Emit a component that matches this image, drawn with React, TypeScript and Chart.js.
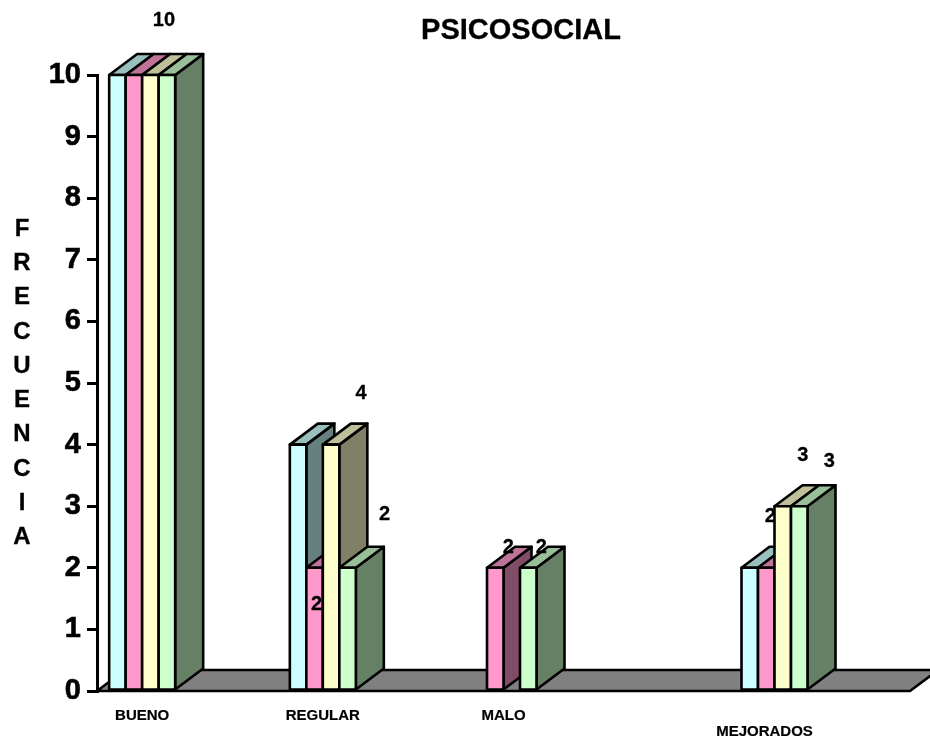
import React, { useEffect, useRef } from "react";
import { Chart, registerables } from "chart.js";

Chart.register(...registerables);

// Nine equal slots along the floor; only four of them hold a group of bars.
const categories = ["BUENO", "", "REGULAR", "", "MALO", "", "", "MEJORADOS", ""];

const seriesCyan = [10, null, 4, null, null, null, null, 2, null];
const seriesPink = [10, null, 2, null, 2, null, null, 2, null];
const seriesYellow = [10, null, 4, null, null, null, null, 3, null];
const seriesGreen = [10, null, 2, null, 2, null, null, 3, null];

const yTicks = [0, 1, 2, 3, 4, 5, 6, 7, 8, 9, 10];
const titleText = "PSICOSOCIAL";
const yAxisTitle = "FRECUENCIA";

const frontColors = ["#CCFFFF", "#FF99CC", "#FFFFCC", "#CCFFCC"];
const topColors = ["#99BFBF", "#BF7399", "#BFBF99", "#99BF99"];
const sideColors = ["#668080", "#804D66", "#808066", "#668066"];

const FONT = '"Liberation Sans", Arial, sans-serif';
const DEPTH_X = 28;
const DEPTH_Y = -21;
const EDGE = 2.6;

// Value captions: which bar each one belongs to, and its offset from that bar's top centre.
const captions = [
  { series: 3, category: 0, dx: -3, dy: -55 },
  { series: 1, category: 2, dx: 2, dy: 37 },
  { series: 2, category: 2, dx: 30, dy: -51 },
  { series: 3, category: 2, dx: 37, dy: -53 },
  { series: 1, category: 4, dx: 13, dy: -20 },
  { series: 3, category: 4, dx: 13, dy: -20 },
  { series: 1, category: 7, dx: 4, dy: -51 },
  { series: 2, category: 7, dx: 20, dy: -51 },
  { series: 3, category: 7, dx: 30, dy: -45 },
];

// Category captions sit under their slot; the last one is shifted and dropped a line.
const categoryCaptionShift: Record<number, { dx: number; dy: number }> = {
  7: { dx: -10, dy: 16 },
};

function polygon(ctx: CanvasRenderingContext2D, pts: number[][], fill: string) {
  ctx.beginPath();
  pts.forEach(([x, y], i) => (i ? ctx.lineTo(x, y) : ctx.moveTo(x, y)));
  ctx.closePath();
  ctx.fillStyle = fill;
  ctx.fill();
  ctx.stroke();
}

// Bold text with a hairline outline for a heavier weight.
function heavyText(ctx: CanvasRenderingContext2D, text: string, x: number, y: number, weight = 0.3) {
  ctx.lineWidth = weight;
  ctx.strokeStyle = "#000";
  ctx.fillStyle = "#000";
  ctx.fillText(text, x, y);
  ctx.strokeText(text, x, y);
}

const bars3d = {
  id: "bars3d",
  // Replaces the flat bar pass: floor first, then the series left to right with depth faces.
  beforeDatasetsDraw(chart: any) {
    const { ctx, chartArea } = chart;
    const { left, right, bottom } = chartArea;
    ctx.save();
    ctx.lineJoin = "round";
    ctx.strokeStyle = "#000";
    ctx.lineWidth = EDGE;
    polygon(
      ctx,
      [
        [left, bottom],
        [left + DEPTH_X, bottom + DEPTH_Y],
        [right + DEPTH_X, bottom + DEPTH_Y],
        [right, bottom],
      ],
      "#808080",
    );

    chart.data.datasets.forEach((ds: any, si: number) => {
      const meta = chart.getDatasetMeta(si);
      ctx.strokeStyle = "#000";
      ctx.lineWidth = EDGE;
      meta.data.forEach((bar: any, ci: number) => {
        if (ds.data[ci] == null) return;
        const { x, y, base, width } = bar.getProps(["x", "y", "base", "width"], true);
        const l = x - width / 2;
        const r = x + width / 2;
        polygon(
          ctx,
          [
            [r, base],
            [r + DEPTH_X, base + DEPTH_Y],
            [r + DEPTH_X, y + DEPTH_Y],
            [r, y],
          ],
          sideColors[si],
        );
        polygon(
          ctx,
          [
            [l, y],
            [l + DEPTH_X, y + DEPTH_Y],
            [r + DEPTH_X, y + DEPTH_Y],
            [r, y],
          ],
          topColors[si],
        );
        bar.draw(ctx);
        ctx.strokeRect(l, y, width, base - y);
      });

      // Captions go right after their series, so later bars may cover them.
      ctx.font = `bold 20px ${FONT}`;
      ctx.textAlign = "center";
      ctx.textBaseline = "middle";
      captions
        .filter((c) => c.series === si)
        .forEach((c) => {
          const { x, y } = meta.data[c.category].getProps(["x", "y"], true);
          heavyText(ctx, String(ds.data[c.category]), x + c.dx, y + c.dy);
        });
    });
    ctx.restore();
    return false;
  },
  afterDraw(chart: any) {
    const { ctx, scales } = chart;
    ctx.save();
    ctx.textAlign = "center";
    ctx.textBaseline = "middle";

    ctx.font = `bold 15px ${FONT}`;
    categories.forEach((name, i) => {
      if (!name) return;
      const shift = categoryCaptionShift[i] ?? { dx: 0, dy: 0 };
      heavyText(ctx, name, scales.x.getPixelForValue(i) + shift.dx, 716 + shift.dy, 0.2);
    });

    ctx.font = `bold 29px ${FONT}`;
    heavyText(ctx, titleText, 521, 31);

    ctx.font = `bold 24px ${FONT}`;
    yAxisTitle.split("").forEach((letter, i) => {
      heavyText(ctx, letter, 22, 229 + i * 34.3);
    });
    ctx.restore();
  },
};

export default function App() {
  const ref = useRef<HTMLCanvasElement>(null);

  useEffect(() => {
    document.body.style.margin = "0";
    const allSeries = [seriesCyan, seriesPink, seriesYellow, seriesGreen];
    const chart = new Chart(ref.current as HTMLCanvasElement, {
      type: "bar",
      data: {
        labels: categories,
        datasets: allSeries.map((data, i) => ({
          data,
          backgroundColor: frontColors[i],
          borderWidth: 0,
          categoryPercentage: 0.7306,
          barPercentage: 1,
        })),
      },
      plugins: [bars3d],
      options: {
        responsive: false,
        animation: false,
        events: [],
        layout: { padding: { top: 75, right: 20, left: 0, bottom: 0 } },
        plugins: { legend: { display: false }, title: { display: false }, tooltip: { enabled: false } },
        scales: {
          x: {
            grid: { display: false },
            border: { display: false },
            ticks: { display: false },
            afterFit(scale: any) {
              scale.height = 53;
            },
          },
          y: {
            min: yTicks[0],
            max: yTicks[yTicks.length - 1],
            afterBuildTicks(scale: any) {
              scale.ticks = yTicks.map((value) => ({ value }));
            },
            ticks: {
              color: "#000",
              padding: 6,
              textStrokeColor: "#000",
              textStrokeWidth: 0.6,
              font: { family: FONT, weight: "bold", size: 29 },
            },
            grid: { drawOnChartArea: false, tickLength: 10, color: "#000", lineWidth: 3 },
            border: { color: "#000", width: 3 },
            afterFit(scale: any) {
              scale.width = 97;
            },
          },
        },
      },
    } as any);
    return () => chart.destroy();
  }, []);

  return <canvas ref={ref} width={930} height={744} style={{ display: "block" }} />;
}
